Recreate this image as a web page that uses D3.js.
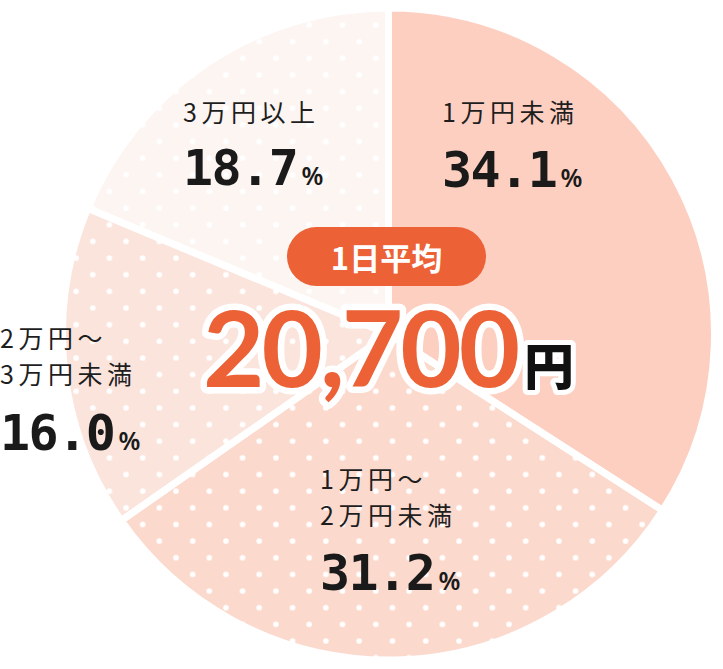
<!DOCTYPE html>
<html>
<head>
<meta charset="utf-8">
<script src="https://cdn.jsdelivr.net/npm/d3@7"></script>
<style>
  html, body { margin: 0; padding: 0; background: #fff; }
  svg { display: block; }
</style>
</head>
<body>
<svg width="723" height="669"></svg>
<script>
// spending per day, share of respondents (clockwise from 12 o'clock)
let categories = ["1万円未満", "1万円～|2万円未満", "2万円～|3万円未満", "3万円以上"];
let shares = [34.1, 31.2, 16.0, 18.7];
let avgLabel = "1日平均";
let avgValue = "20,700";
let avgUnit = "円";

let cx = 388.5, cy = 334, radius = 326;
let sliceFill = ["#fdcfc1", "#fcd9cd", "#fbe4dc", "#fdf5f2"];
let dotted = [false, true, true, true];
// where each label block starts (left x, first baseline, percent baseline)
let labelPos = [
  {x: 442, y: 122, py: 187},
  {x: 320, y: 489, py: 590},
  {x: 0,   y: 348, py: 450},
  {x: 183, y: 122, py: 185}
];

var svg = d3.select("svg");

// dot pattern
var defs = svg.append("defs");
var pat = defs.append("pattern")
  .attr("id", "dots")
  .attr("patternUnits", "userSpaceOnUse")
  .attr("x", 20.6).attr("y", 23.9)
  .attr("width", 33.3).attr("height", 33.3);
[[0, 0], [33.3, 0], [0, 33.3], [33.3, 33.3], [16.65, 16.65]].forEach(function(p) {
  pat.append("circle").attr("cx", p[0]).attr("cy", p[1]).attr("r", 2.8).attr("fill", "#fff");
});

var pie = d3.pie().sort(null).value(function(d) { return d; });
var arc = d3.arc().innerRadius(0).outerRadius(radius);
var arcs = pie(shares);

var g = svg.append("g").attr("transform", "translate(" + cx + "," + cy + ")");

g.selectAll("path.slice")
  .data(arcs)
  .enter().append("path")
  .attr("class", "slice")
  .attr("d", arc)
  .attr("fill", function(d, i) { return sliceFill[i]; });

// dots on top of the lighter slices
svg.append("g")
  .selectAll("path.dots")
  .data(arcs.filter(function(d, i) { return dotted[i]; }))
  .enter().append("path")
  .attr("class", "dots")
  .attr("d", function(d) { return arc(d); })
  .attr("transform", "translate(" + cx + "," + cy + ")")
  .attr("fill", "url(#dots)");

// white separators
svg.append("g")
  .attr("transform", "translate(" + cx + "," + cy + ")")
  .selectAll("path.sep")
  .data(arcs)
  .enter().append("path")
  .attr("class", "sep")
  .attr("d", arc)
  .attr("fill", "none")
  .attr("stroke", "#fff")
  .attr("stroke-width", 7)
  .attr("stroke-linejoin", "round");

// category labels
var lab = svg.append("g");
categories.forEach(function(c, i) {
  var p = labelPos[i];
  c.split("|").forEach(function(l, j) {
    lab.append("text")
      .attr("x", p.x)
      .attr("y", p.y + j * 36)
      .attr("font-family", "'Noto Sans CJK JP', 'Noto Sans', sans-serif")
      .attr("font-size", 25)
      .attr("letter-spacing", 4.5)
      .attr("fill", "#1e1e1e")
      .text(l);
  });
  var pt = lab.append("text")
    .attr("x", p.x)
    .attr("y", p.py)
    .attr("fill", "#1a1a1a");
  pt.append("tspan")
    .attr("font-family", "'DejaVu Sans Mono', monospace")
    .attr("font-weight", 700)
    .attr("font-size", 50)
    .attr("letter-spacing", -1.5)
    .text(d3.format(".1f")(shares[i]));
  pt.append("tspan")
    .attr("font-family", "'Noto Sans', sans-serif")
    .attr("font-weight", 600)
    .attr("font-size", 25)
    .attr("dx", 4)
    .text("%");
});

// badge
var badge = svg.append("g");
badge.append("rect")
  .attr("x", 287).attr("y", 227)
  .attr("width", 199).attr("height", 59)
  .attr("rx", 29.5)
  .attr("fill", "#ec6136");
badge.append("text")
  .attr("x", 386.5).attr("y", 270)
  .attr("text-anchor", "middle")
  .attr("font-family", "'Noto Sans CJK JP', sans-serif")
  .attr("font-weight", 700)
  .attr("font-size", 31)
  .attr("fill", "#fff")
  .text(avgLabel);

// average amount
var amt = svg.append("g");
amt.append("text")
  .attr("x", 203).attr("y", 387)
  .attr("font-family", "Lato, 'Noto Sans', sans-serif")
  .attr("font-weight", 700)
  .attr("font-size", 106)
  .attr("letter-spacing", -3)
  .attr("fill", "#ec6136")
  .attr("stroke", "#fff")
  .attr("stroke-width", 13)
  .attr("stroke-linejoin", "round")
  .attr("paint-order", "stroke")
  .text(avgValue);
amt.append("text")
  .attr("x", 524).attr("y", 385)
  .attr("font-family", "'Noto Sans CJK JP', sans-serif")
  .attr("font-weight", 900)
  .attr("font-size", 50)
  .attr("fill", "#111")
  .attr("stroke", "#fff")
  .attr("stroke-width", 10)
  .attr("stroke-linejoin", "round")
  .attr("paint-order", "stroke")
  .text(avgUnit);
</script>
</body>
</html>
